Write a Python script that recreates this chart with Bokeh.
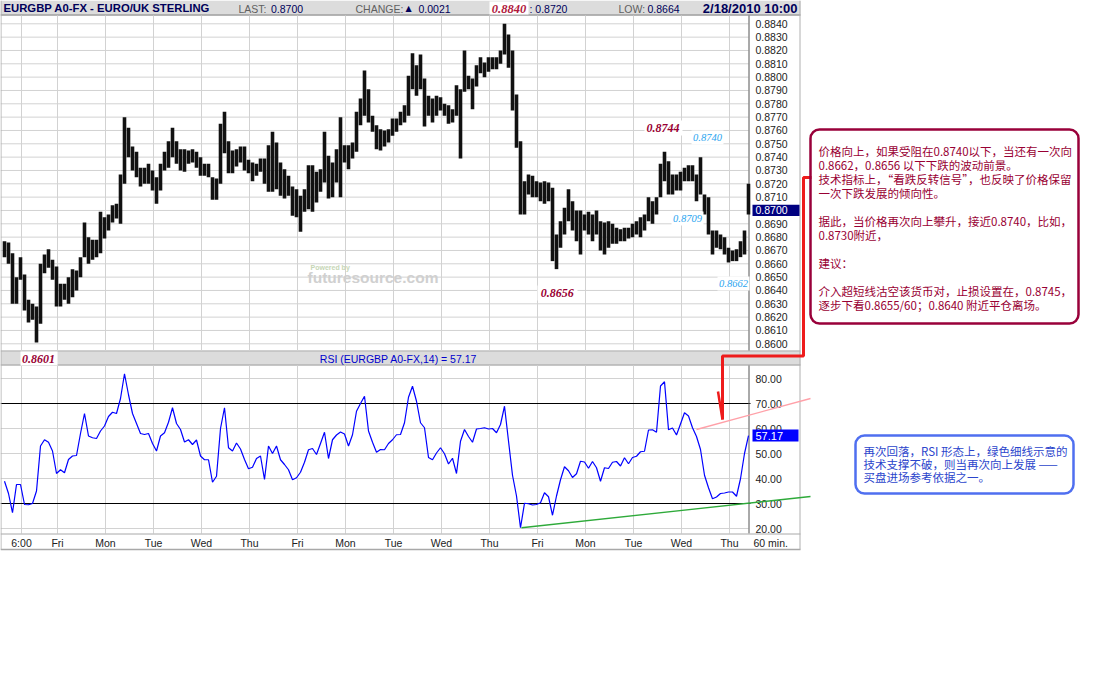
from bokeh.plotting import figure
from bokeh.models import Range1d, BoxAnnotation
from bokeh.core.properties import value
from bokeh.embed import file_html
from bokeh.resources import INLINE

# ---------------- data ----------------
# 2-hour OHLC bars of EURGBP, hourly axis position = 2*i+1
price_high = [
    0.8677, 0.8676, 0.8668, 0.8650, 0.8665, 0.8652, 0.8633, 0.8630, 0.8628, 0.8660,
    0.8667, 0.8671, 0.8663, 0.8658, 0.8645, 0.8645, 0.8650, 0.8656, 0.8655, 0.8665,
    0.8691, 0.8680, 0.8678, 0.8678, 0.8699, 0.8695, 0.8697, 0.8704, 0.8705, 0.8727,
    0.8770, 0.8762, 0.8748, 0.8744, 0.8732, 0.8732, 0.8735, 0.8730, 0.8725, 0.8735,
    0.8744, 0.8752, 0.8762, 0.8752, 0.8746, 0.8746, 0.8745, 0.8746, 0.8744, 0.8740,
    0.8735, 0.8735, 0.8725, 0.8724, 0.8765, 0.8774, 0.8752, 0.8745, 0.8746, 0.8748,
    0.8748, 0.8738, 0.8736, 0.8735, 0.8739, 0.8739, 0.8749, 0.8759, 0.8751, 0.8736,
    0.8731, 0.8726, 0.8718, 0.8716, 0.8711, 0.8716, 0.8734, 0.8734, 0.8729, 0.8731,
    0.8759, 0.8741, 0.8736, 0.8746, 0.8770, 0.8749, 0.8749, 0.8751, 0.8774, 0.8784,
    0.8805, 0.8791, 0.8771, 0.8764, 0.8761, 0.8760, 0.8761, 0.8769, 0.8769, 0.8774,
    0.8779, 0.8801, 0.8818, 0.8809, 0.8817, 0.8799, 0.8786, 0.8784, 0.8786, 0.8785,
    0.8780, 0.8779, 0.8776, 0.8794, 0.8791, 0.8820, 0.8801, 0.8799, 0.8809, 0.8815,
    0.8811, 0.8815, 0.8815, 0.8815, 0.8820, 0.8840, 0.8832, 0.8820, 0.8787, 0.8752,
    0.8722, 0.8727, 0.8726, 0.8722, 0.8721, 0.8722, 0.8721, 0.8717, 0.8682, 0.8692,
    0.8702, 0.8716, 0.8707, 0.8700, 0.8700, 0.8697, 0.8699, 0.8697, 0.8700, 0.8692,
    0.8691, 0.8692, 0.8690, 0.8687, 0.8686, 0.8687, 0.8687, 0.8690, 0.8692, 0.8695,
    0.8697, 0.8710, 0.8707, 0.8710, 0.8735, 0.8744, 0.8737, 0.8727, 0.8727, 0.8729,
    0.8732, 0.8734, 0.8734, 0.8727, 0.8740, 0.8712, 0.8710, 0.8685, 0.8685, 0.8682,
    0.8680, 0.8672, 0.8670, 0.8671, 0.8677, 0.8685, 0.8720,
]
price_low = [
    0.8665, 0.8660, 0.8630, 0.8630, 0.8648, 0.8625, 0.8616, 0.8618, 0.8601, 0.8615,
    0.8653, 0.8657, 0.8648, 0.8628, 0.8628, 0.8633, 0.8630, 0.8635, 0.8640, 0.8650,
    0.8665, 0.8660, 0.8663, 0.8665, 0.8668, 0.8679, 0.8685, 0.8691, 0.8694, 0.8690,
    0.8720, 0.8740, 0.8730, 0.8725, 0.8718, 0.8720, 0.8720, 0.8715, 0.8705, 0.8715,
    0.8730, 0.8732, 0.8740, 0.8735, 0.8730, 0.8729, 0.8735, 0.8736, 0.8732, 0.8726,
    0.8726, 0.8725, 0.8708, 0.8708, 0.8720, 0.8743, 0.8728, 0.8728, 0.8733, 0.8736,
    0.8730, 0.8728, 0.8722, 0.8726, 0.8729, 0.8720, 0.8714, 0.8714, 0.8716, 0.8711,
    0.8709, 0.8711, 0.8696, 0.8695, 0.8684, 0.8699, 0.8701, 0.8699, 0.8706, 0.8714,
    0.8721, 0.8709, 0.8710, 0.8721, 0.8710, 0.8736, 0.8731, 0.8739, 0.8744, 0.8764,
    0.8771, 0.8766, 0.8759, 0.8746, 0.8745, 0.8748, 0.8751, 0.8756, 0.8759, 0.8764,
    0.8766, 0.8771, 0.8791, 0.8786, 0.8791, 0.8763, 0.8771, 0.8766, 0.8771, 0.8775,
    0.8771, 0.8765, 0.8766, 0.8771, 0.8739, 0.8789, 0.8791, 0.8776, 0.8793, 0.8803,
    0.8800, 0.8804, 0.8806, 0.8806, 0.8810, 0.8817, 0.8807, 0.8775, 0.8747, 0.8697,
    0.8697, 0.8712, 0.8710, 0.8710, 0.8707, 0.8705, 0.8707, 0.8662, 0.8656, 0.8672,
    0.8682, 0.8692, 0.8685, 0.8677, 0.8667, 0.8685, 0.8682, 0.8677, 0.8682, 0.8670,
    0.8667, 0.8672, 0.8675, 0.8675, 0.8677, 0.8677, 0.8679, 0.8680, 0.8682, 0.8680,
    0.8685, 0.8692, 0.8690, 0.8697, 0.8710, 0.8722, 0.8712, 0.8712, 0.8715, 0.8715,
    0.8722, 0.8722, 0.8722, 0.8707, 0.8712, 0.8697, 0.8682, 0.8667, 0.8672, 0.8671,
    0.8667, 0.8661, 0.8662, 0.8662, 0.8665, 0.8667, 0.8697,
]
rsi_values = [
    38.9, 34.0, 26.3, 37.6, 37.6, 29.6, 29.5, 30.0, 35.0, 53.0,
    55.5, 54.5, 51.0, 42.0, 43.5, 42.3, 47.6, 49.0, 49.2, 58.0,
    66.0, 57.0, 56.3, 56.0, 59.0, 61.0, 64.8, 66.5, 66.0, 72.0,
    81.9, 73.5, 66.0, 62.0, 58.0, 57.6, 58.0, 54.0, 51.0, 57.0,
    58.3, 62.5, 68.3, 62.0, 59.6, 54.6, 55.5, 53.6, 55.4, 49.0,
    47.5, 47.5, 38.5, 40.9, 60.0, 68.3, 52.3, 51.0, 54.2, 51.8,
    47.6, 43.9, 44.5, 48.0, 49.0, 39.6, 53.0, 50.0, 53.0, 47.5,
    45.6, 43.5, 39.5, 40.3, 42.5, 46.5, 51.5, 52.0, 49.6, 54.0,
    58.5, 48.0, 55.5, 57.4, 58.6, 57.8, 53.0, 57.5, 66.9, 70.0,
    72.9, 59.0, 54.5, 50.5, 51.6, 51.5, 54.0, 55.5, 57.5, 57.6,
    62.3, 72.5, 76.9, 70.9, 62.3, 60.3, 48.4, 47.5, 50.2, 52.3,
    49.9, 45.8, 48.1, 42.0, 54.9, 59.6, 56.8, 54.5, 59.8, 60.0,
    60.3, 59.8, 60.0, 58.3, 61.6, 68.9, 55.0, 41.3, 33.0, 20.3,
    30.1, 29.9, 29.4, 29.6, 30.3, 34.3, 32.7, 25.3, 33.0, 39.5,
    44.7, 43.1, 40.4, 41.9, 46.9, 46.6, 44.1, 46.8, 44.3, 38.9,
    44.3, 44.0, 46.5, 46.8, 45.0, 48.3, 45.9, 48.4, 48.9, 50.7,
    50.9, 59.4, 59.5, 58.5, 77.0, 78.7, 59.5, 60.2, 57.4, 61.8,
    66.3, 65.0, 60.3, 56.8, 51.6, 41.3, 36.3, 31.9, 32.6, 34.0,
    34.2, 34.6, 34.6, 32.9, 39.9, 50.0, 57.17,
]
bar_hours = [2 * i + 1 for i in range(len(price_high))]

price_ticks = [0.8600, 0.8610, 0.8620, 0.8630, 0.8640, 0.8650, 0.8660, 0.8670,
               0.8680, 0.8690, 0.8700, 0.8710, 0.8720, 0.8730, 0.8740, 0.8750,
               0.8760, 0.8770, 0.8780, 0.8790, 0.8800, 0.8810, 0.8820, 0.8830, 0.8840]
rsi_ticks = [20, 30, 40, 50, 60, 70, 80]
rsi_bands = [30, 70]
day_labels = ["6:00", "Fri", "Mon", "Tue", "Wed", "Thu", "Fri", "Mon", "Tue",
              "Wed", "Thu", "Fri", "Mon", "Tue", "Wed", "Thu"]
day_hours = [9.5, 27.5, 51.5, 75.5, 99.5, 123.5, 147.5, 171.5, 195.5,
             219.5, 243.5, 267.5, 291.5, 315.5, 339.5, 363.5]
last_price = 0.8700
last_rsi = 57.17
pink_trend_hours = [347, 404]
pink_trend_rsi = [59.6, 72.0]
green_trend_hours = [259.5, 404]
green_trend_rsi = [20.3, 32.8]

red_note = [
    (0, "价格向上，如果受阻在0.8740以下，当还有一次向"),
    (1, "0.8662，0.8656 以下下跌的波动前景。"),
    (2, "技术指标上，“看跌反转信号”，也反映了价格保留"),
    (3, "一次下跌发展的倾向性。"),
    (5, "据此，当价格再次向上攀升，接近0.8740，比如，"),
    (6, "0.8730附近，"),
    (8, "建议："),
    (10, "介入超短线沽空该货币对，止损设置在，0.8745，"),
    (11, "逐步下看0.8655/60；0.8640 附近平仓离场。"),
]
blue_note = [
    "再次回落，RSI 形态上，绿色细线示意的",
    "技术支撑不破，则当再次向上发展 ——",
    "买盘进场参考依据之一。",
]

# ---------------- layout ----------------
W, H = 1080, 560
PX0, PX_PER_H = 2.0, 2.0          # hour 0 at x=2px, 2px per hour
Y_P0, PX_PER_PRICE = 343.3, 13333.0  # 0.8600 at y=343.3px
Y_R20, PX_PER_RSI = 528.0, 2.5       # RSI 20 at y=528px

GRID = "#d2d2d2"
NAVY = "#00005a"
GRAYTXT = "#606060"
DARKRED = "#990033"
LBLUE = "#2aa5f0"

p = figure(width=W, height=H, x_range=Range1d(0, W), y_range=Range1d(H, 0),
           x_axis_location=None, y_axis_location=None, toolbar_location=None,
           output_backend="svg", min_border=0, outline_line_color=None,
           background_fill_color="white", border_fill_color="white")
p.grid.visible = False
p.extra_x_ranges = {"hr": Range1d(-PX0 / PX_PER_H, (W - PX0) / PX_PER_H)}
p.extra_y_ranges = {
    "price": Range1d(0.86 - (H - Y_P0) / PX_PER_PRICE, 0.86 + Y_P0 / PX_PER_PRICE),
    "rsi": Range1d(20 - (H - Y_R20) / PX_PER_RSI, 20 + Y_R20 / PX_PER_RSI),
}


def txt(x, y, s, size="10.5px", color="#222222", align="left", font="Liberation Sans",
        style="normal", baseline="middle", **kw):
    xs = x if isinstance(x, list) else [x]
    ys = y if isinstance(y, list) else [y] * len(xs)
    ss = s if isinstance(s, list) else [s] * len(xs)
    p.text(x=xs, y=ys, text=ss, text_font=value(font), text_font_size=size,
           text_color=color, text_align=align, text_baseline=baseline,
           text_font_style=style, **kw)


# ---- panel backgrounds / header bars ----
p.quad(left=[0], right=[800], top=[0], bottom=[15], fill_color="#dcdcdc", line_color=None)
p.segment(x0=[0], x1=[800], y0=[14.5], y1=[14.5], line_color="#a0a0a0", line_width=1.5)
p.quad(left=[0], right=[800], top=[351], bottom=[365], fill_color="#dcdcdc", line_color=None)
p.segment(x0=[0, 0], x1=[800, 800], y0=[350.5, 364.5], y1=[350.5, 364.5],
          line_color="#a0a0a0", line_width=1.2)

# ---- grid lines ----
p.segment(x0=day_hours, x1=day_hours, y0=15, y1=350, x_range_name="hr",
          line_color=GRID, line_width=1)
p.segment(x0=day_hours, x1=day_hours, y0=365, y1=533, x_range_name="hr",
          line_color=GRID, line_width=1)
p.segment(x0=0, x1=748, y0=price_ticks, y1=price_ticks, y_range_name="price",
          line_color=GRID, line_width=1)
rsi_grid = [t for t in rsi_ticks if t not in rsi_bands]
p.segment(x0=0, x1=748, y0=rsi_grid, y1=rsi_grid, y_range_name="rsi",
          line_color=GRID, line_width=1)
p.segment(x0=0, x1=750, y0=rsi_bands, y1=rsi_bands, y_range_name="rsi",
          line_color="black", line_width=1.2)

# ---- frame lines ----
p.segment(x0=[748.5, 748.5], x1=[748.5, 748.5], y0=[15, 365], y1=[350, 533],
          line_color="#555555", line_width=1)
p.segment(x0=[0], x1=[800], y0=[533.5], y1=[533.5], line_color="#a8a8a8", line_width=1)
p.segment(x0=[0], x1=[800], y0=[549], y1=[549], line_color="#a8a8a8", line_width=1.5)
p.segment(x0=[799.5, 0.5], x1=[799.5, 0.5], y0=[0, 0], y1=[549, 549],
          line_color="#b0b0b0", line_width=1)

# ---- watermark ----
txt(310, 267, "Powered by", size="7px", color="#c6d6b6", style="bold")
txt(307, 277, "futuresource.com", size="15.5px", color="#d0d0d0", style="bold")

# ---- price bars ----
p.vbar(x=bar_hours, width=1.8, top=price_high, bottom=price_low,
       x_range_name="hr", y_range_name="price", fill_color="#111111", line_color=None)

# ---- RSI ----
p.line(x=bar_hours, y=rsi_values, x_range_name="hr", y_range_name="rsi",
       line_color="#0000ff", line_width=1.2)

# ---- axes labels ----
price_labels = [f"{t:.4f}" for t in price_ticks]
txt([755] * len(price_ticks), price_ticks, price_labels, y_range_name="price")
p.quad(left=[752], right=[799], top=[last_price + 0.00042], bottom=[last_price - 0.00042],
       y_range_name="price", fill_color="#000080", line_color=None)
txt(755, [last_price], f"{last_price:.4f}", color="white", y_range_name="price")

rsi_labels = [f"{t:.2f}" for t in rsi_ticks]
txt([755] * len(rsi_ticks), rsi_ticks, rsi_labels, y_range_name="rsi")
p.quad(left=[752], right=[798], top=[last_rsi + 2.4], bottom=[last_rsi - 2.4],
       y_range_name="rsi", fill_color="#0000ff", line_color=None)
txt(755, [last_rsi], f"{last_rsi:.2f}", color="white", y_range_name="rsi", size="11px")

txt(day_hours, 542, day_labels, align="center", x_range_name="hr")
txt(753, 542, "60 min.")

# ---- trend lines ----
p.line(x=pink_trend_hours, y=pink_trend_rsi, x_range_name="hr", y_range_name="rsi",
       line_color="#ffa0a8", line_width=1.3)
p.line(x=green_trend_hours, y=green_trend_rsi, x_range_name="hr", y_range_name="rsi",
       line_color="#2eaa3a", line_width=1.3)

# ---- header texts ----
txt(3, 7.5, "EURGBP A0-FX - EURO/UK STERLING", size="11.3px", color=NAVY, style="bold")
txt(238, 8, "LAST:", color=GRAYTXT)
txt(270.5, 8, "0.8700", color=NAVY)
txt(355, 8, "CHANGE:", color=GRAYTXT)
txt(405, 7.5, "▲", size="8px", color=NAVY, font="DejaVu Sans")
txt(418, 8, "0.0021", color=NAVY)
p.quad(left=[489], right=[528], top=[1], bottom=[14], fill_color="white", line_color=None)
txt(508.5, 8, "0.8840", size="12.5px", color="#b0183c", font="Liberation Serif",
    style="bold italic", align="center")
txt(529, 8, ": 0.8720", color=NAVY)
txt(618, 8, "LOW:", color=GRAYTXT)
txt(647, 8, "0.8664", color=NAVY)
txt(797, 7.5, "2/18/2010 10:00", size="13px", color=NAVY, style="bold", align="right")

# RSI header
txt(398, 358, "RSI (EURGBP A0-FX,14) = 57.17", color="#0000cc", align="center")
p.quad(left=[20], right=[57], top=[351], bottom=[365], fill_color="white", line_color=None)
txt(38, 358, "0.8601", size="12px", color=DARKRED, font="Liberation Serif",
    style="bold italic", align="center")

# ---- value labels in price panel ----
p.quad(left=[644, 691, 671, 717, 537], right=[682, 723, 703, 749, 577],
       top=[120, 130, 211, 276, 285], bottom=[135, 144, 225, 290, 300],
       fill_color="white", line_color=None)
txt([662.5, 556.7], [127.5, 292.7], ["0.8744", "0.8656"], size="12px", color=DARKRED,
    font="Liberation Serif", style="bold italic", align="center")
txt([707, 687, 733], [137.3, 218.3, 282.7], ["0.8740", "0.8709", "0.8662"], size="10.5px",
    color=LBLUE, font="Liberation Serif", style="italic", align="center")

# ---- red connector ----
p.line(x=[811, 803, 803, 722, 722], y=[177, 177, 355.5, 355.5, 419],
       line_color="#ee1c1c", line_width=3)
p.line(x=[717.5, 722], y=[391, 419], line_color="#ee1c1c", line_width=2.5)

# ---- note boxes ----
p.add_layout(BoxAnnotation(left=810, right=1078, top=129, bottom=323,
                           fill_color=None, fill_alpha=0,
                           line_color="#99003a", line_alpha=1.0, line_width=2.5,
                           border_radius=9))
for k, line in red_note:
    txt(818, 150 + 14 * k, line, size="11.5px", color=DARKRED, font="Noto Sans CJK SC")

p.add_layout(BoxAnnotation(left=855, right=1073, top=435, bottom=493,
                           fill_color=None, fill_alpha=0,
                           line_color="#4f6ff0", line_alpha=1.0, line_width=2.5,
                           border_radius=9))
for k, line in enumerate(blue_note):
    txt(863, 450 + 13 * k, line, size="11.5px", color="#2b45cc", font="Noto Sans CJK SC")

open("out.html", "w").write(file_html(p, INLINE))
